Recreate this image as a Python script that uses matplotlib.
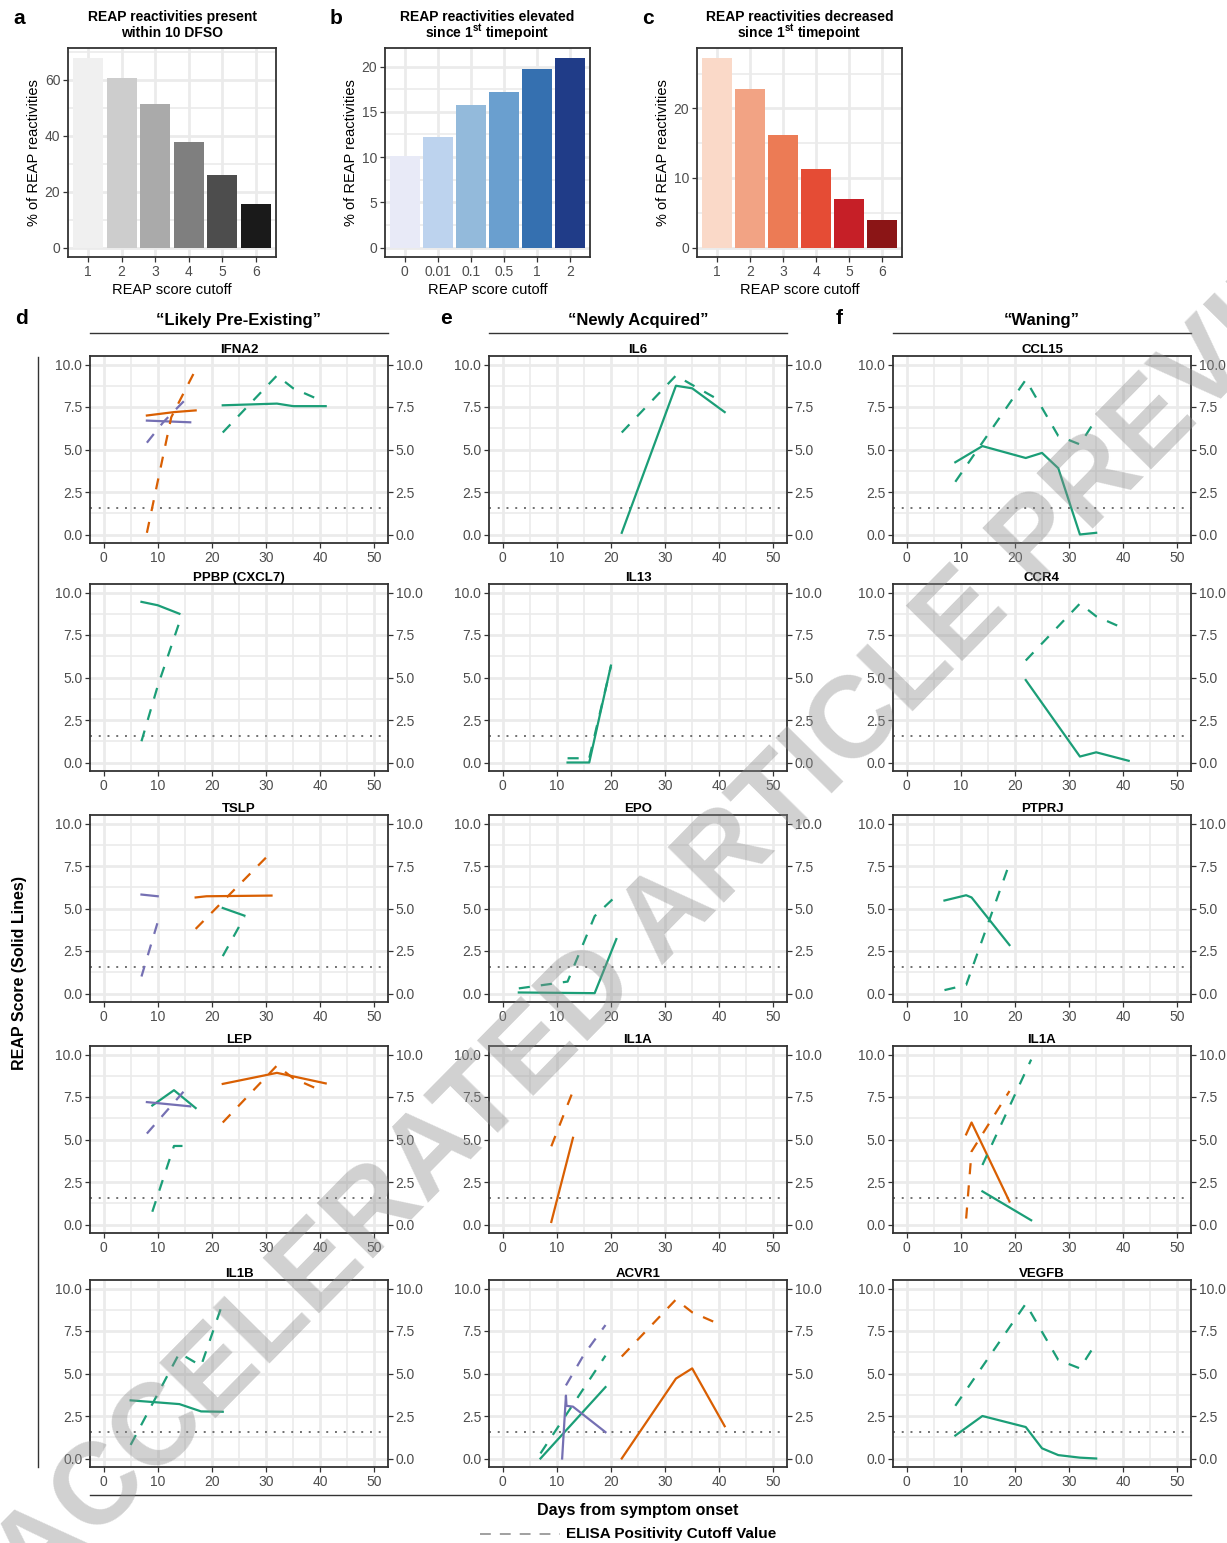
import matplotlib
matplotlib.use('Agg')
import matplotlib.pyplot as plt
from matplotlib.lines import Line2D

plt.rcParams['font.family'] = ['Liberation Sans', 'DejaVu Sans']
plt.rcParams['mathtext.fontset'] = 'custom'
plt.rcParams['mathtext.rm'] = 'Liberation Sans'
plt.rcParams['mathtext.bf'] = 'Liberation Sans:bold'

# ---- bar chart data (panels a-c) ----
cutoffs_a = ['1', '2', '3', '4', '5', '6']
present_pct = [67.9, 60.4, 51.2, 37.6, 26.0, 15.4]
cutoffs_b = ['0', '0.01', '0.1', '0.5', '1', '2']
elevated_pct = [10.1, 12.2, 15.7, 17.2, 19.7, 21.0]
cutoffs_c = ['1', '2', '3', '4', '5', '6']
decreased_pct = [27.3, 22.8, 16.1, 11.3, 6.9, 4.0]

grays = ['#F0F0F0', '#CDCDCD', '#AAAAAA', '#7F7F7F', '#4D4D4D', '#1A1A1A']
blues = ['#E8EAF7', '#BDD3EE', '#93BADB', '#6A9FCF', '#3570B0', '#203C88']
reds = ['#FAD9C8', '#F2A384', '#EC7B55', '#E54C35', '#C61F27', '#8B1516']

# ---- time course data (panels d-f) ----
# (patient, measure, days, values); measure 'reap' = solid, 'elisa' = dashed
IFNA2 = [
    ('B', 'reap', [8, 13, 17], [7.0, 7.2, 7.3]),
    ('C', 'reap', [8, 12, 16], [6.7, 6.65, 6.6]),
    ('B', 'elisa', [8, 12.5, 17], [0.1, 6.9, 9.7]),
    ('C', 'elisa', [8, 11, 15], [5.4, 6.6, 7.9]),
    ('A', 'reap', [22, 32, 35, 41], [7.6, 7.7, 7.55, 7.55]),
    ('A', 'elisa', [22, 32, 35, 40], [6.0, 9.35, 8.6, 7.9]),
]
PPBP = [
    ('A', 'reap', [7, 10, 14], [9.45, 9.25, 8.75]),
    ('A', 'elisa', [7, 10, 14], [1.25, 4.5, 8.25]),
]
TSLP = [
    ('C', 'reap', [7, 10], [5.82, 5.72]),
    ('C', 'elisa', [7, 10], [1.0, 4.2]),
    ('B', 'reap', [17, 19, 31], [5.65, 5.72, 5.76]),
    ('B', 'elisa', [17, 30], [3.8, 8.0]),
    ('A', 'reap', [22, 26], [5.03, 4.58]),
    ('A', 'elisa', [22, 26], [2.2, 4.5]),
]
LEP = [
    ('A', 'reap', [9, 13, 17], [7.0, 7.9, 6.85]),
    ('C', 'reap', [8, 16], [7.2, 6.95]),
    ('C', 'elisa', [8, 15], [5.35, 7.9]),
    ('A', 'elisa', [9, 13, 15], [0.75, 4.62, 4.62]),
    ('B', 'reap', [22, 32, 41], [8.27, 8.92, 8.3]),
    ('B', 'elisa', [22, 32, 35, 40], [6.0, 9.35, 8.6, 7.9]),
]
IL1B = [
    ('A', 'reap', [5, 10, 14, 18, 22], [3.42, 3.3, 3.2, 2.77, 2.75]),
    ('A', 'elisa', [5, 14, 18, 22], [0.8, 6.2, 5.45, 9.15]),
]
IL6 = [
    ('A', 'reap', [22, 32, 35, 41], [0.1, 8.75, 8.6, 7.2]),
    ('A', 'elisa', [22, 32, 35, 40], [6.0, 9.35, 8.8, 7.9]),
]
IL13 = [
    ('A', 'reap', [12, 16, 20], [0.0, 0.0, 5.7]),
    ('A', 'elisa', [12, 16, 20], [0.25, 0.25, 5.65]),
]
EPO = [
    ('A', 'reap', [3, 17, 21], [0.06, 0.02, 3.2]),
    ('A', 'elisa', [3, 12, 17, 21], [0.3, 0.7, 4.55, 5.75]),
]
IL1A_new = [
    ('B', 'reap', [9, 13], [0.15, 5.1]),
    ('B', 'elisa', [9, 13], [4.6, 7.85]),
]
ACVR1 = [
    ('A', 'reap', [7, 19], [0.0, 4.2]),
    ('A', 'elisa', [7, 19], [0.3, 6.05]),
    ('C', 'reap', [11, 11.7, 11.8, 13, 19], [0.0, 3.7, 3.1, 3.05, 1.55]),
    ('C', 'elisa', [11.7, 15, 19], [4.3, 6.1, 7.85]),
    ('B', 'reap', [22, 32, 35, 41], [0.0, 4.7, 5.3, 1.9]),
    ('B', 'elisa', [22, 32, 35, 40], [6.0, 9.35, 8.6, 7.9]),
]
CCL15 = [
    ('A', 'reap', [9, 14, 22, 25, 28, 32, 35], [4.25, 5.2, 4.5, 4.8, 3.9, 0.0, 0.1]),
    ('A', 'elisa', [9, 22, 28, 32, 35], [3.1, 9.1, 5.8, 5.3, 6.8]),
]
CCR4 = [
    ('A', 'reap', [22, 32, 35, 41], [4.85, 0.35, 0.6, 0.1]),
    ('A', 'elisa', [22, 32, 35, 40], [6.0, 9.35, 8.6, 7.9]),
]
PTPRJ = [
    ('A', 'reap', [7, 11, 12, 19], [5.47, 5.78, 5.65, 2.85]),
    ('A', 'elisa', [7, 11, 19], [0.2, 0.5, 7.65]),
]
IL1A_wan = [
    ('B', 'reap', [11, 12, 19], [5.3, 6.0, 1.35]),
    ('B', 'elisa', [11, 12, 19], [0.35, 4.3, 7.85]),
    ('A', 'reap', [14, 23], [1.95, 0.25]),
    ('A', 'elisa', [14, 23], [3.5, 9.7]),
]
VEGFB = [
    ('A', 'reap', [9, 14, 22, 25, 28, 32, 35], [1.35, 2.5, 1.85, 0.6, 0.2, 0.05, 0.0]),
    ('A', 'elisa', [9, 22, 28, 32, 35], [3.1, 9.1, 5.8, 5.3, 6.8]),
]

elisa_cutoff = 1.55

groups = ['\u201cLikely Pre-Existing\u201d', '\u201cNewly Acquired\u201d', '\u201cWaning\u201d']
group_letters = ['d', 'e', 'f']
columns = [
    [('IFNA2', IFNA2), ('PPBP (CXCL7)', PPBP), ('TSLP', TSLP), ('LEP', LEP), ('IL1B', IL1B)],
    [('IL6', IL6), ('IL13', IL13), ('EPO', EPO), ('IL1A', IL1A_new), ('ACVR1', ACVR1)],
    [('CCL15', CCL15), ('CCR4', CCR4), ('PTPRJ', PTPRJ), ('IL1A', IL1A_wan), ('VEGFB', VEGFB)],
]

patient_colors = {'A': '#1B9E77', 'B': '#D95F02', 'C': '#7570B3'}
measure_styles = {'reap': '-', 'elisa': (0, (5, 5))}

W, H = 1227, 1543
fig = plt.figure(figsize=(W / 100, H / 100), dpi=100)


def px_axes(left, top, width, height):
    return fig.add_axes([left / W, 1 - (top + height) / H, width / W, height / H])


def fig_line(x0, x1, y0, y1, **kw):
    fig.add_artist(Line2D([x0 / W, x1 / W], [1 - y0 / H, 1 - y1 / H],
                          transform=fig.transFigure, **kw))


def style_frame(ax):
    for s in ax.spines.values():
        s.set_color('#333333')
        s.set_linewidth(1.3)
    ax.set_axisbelow(True)
    ax.grid(which='major', color='#EBEBEB', lw=2.0)
    ax.grid(which='minor', color='#EBEBEB', lw=1.2)
    ax.tick_params(which='minor', length=0)
    ax.tick_params(which='major', direction='out', length=3.5, width=0.9,
                   color='#333333', labelcolor='#4D4D4D', labelsize=10, pad=2)


# ---- panels a-c ----
bar_panels = [
    ('a', 68, 208, cutoffs_a, present_pct, grays, [0, 20, 40, 60],
     'REAP reactivities present', 'within 10 DFSO'),
    ('b', 385, 205, cutoffs_b, elevated_pct, blues, [0, 5, 10, 15, 20],
     'REAP reactivities elevated', 'since 1$^{\\bf st}$ timepoint'),
    ('c', 697, 205, cutoffs_c, decreased_pct, reds, [0, 10, 20],
     'REAP reactivities decreased', 'since 1$^{\\bf st}$ timepoint'),
]
for letter, left, width, cats, vals, cols, yt, title1, title2 in bar_panels:
    ax = px_axes(left, 48, width, 209)
    xs = range(len(cats))
    ax.bar(xs, vals, width=0.9, color=cols, zorder=2)
    top = max(vals) * 1.05
    ax.set_ylim(-max(vals) * 0.05, top)
    ax.set_xlim(-0.6, len(cats) - 0.4)
    ax.set_xticks(list(xs))
    ax.set_xticklabels(cats)
    ax.set_yticks(yt)
    step = yt[1] - yt[0]
    ax.set_yticks([v + step / 2 for v in yt if v + step / 2 < top], minor=True)
    style_frame(ax)
    ax.set_xlabel('REAP score cutoff', fontsize=10.5, color='black', labelpad=3)
    ax.set_ylabel('% of REAP reactivities', fontsize=10.5, color='black', labelpad=3)
    cx = (left + width / 2) / W
    fig.text(cx, 1 - 17 / H, title1, fontsize=10, fontweight='bold', ha='center', va='center')
    fig.text(cx, 1 - 33 / H, title2, fontsize=10, fontweight='bold', ha='center', va='center')
    fig.text((left - 55) / W, 1 - 18 / H, letter, fontsize=15, fontweight='bold',
             va='center', ha='left')

# ---- panels d-f ----
col_left = [90, 489, 893]
letter_x = [15, 440, 836]
row_top = [356, 584, 815, 1046, 1280]
pw, ph = 298, 187

for ci, panels in enumerate(columns):
    x0 = col_left[ci]
    fig.text((x0 + pw / 2) / W, 1 - 320 / H, groups[ci], fontsize=12, fontweight='bold',
             ha='center', va='center')
    fig_line(x0, x0 + pw, 333, 333, color='#333333', lw=1.0)
    fig.text(letter_x[ci] / W, 1 - 318 / H, group_letters[ci], fontsize=15,
             fontweight='bold', ha='left', va='center')
    for ri, (name, series) in enumerate(panels):
        ax = px_axes(x0, row_top[ri], pw, ph)
        ax.axhline(elisa_cutoff, color='#707070', lw=1.4, ls=(0, (1, 3.5)), zorder=1.5)
        for patient, measure, days, vals in series:
            ax.plot(days, vals, color=patient_colors[patient], ls=measure_styles[measure],
                    lw=1.6, zorder=3)
        ax.set_xlim(-2.5, 52.5)
        ax.set_ylim(-0.5, 10.5)
        ax.set_xticks(range(0, 51, 10))
        ax.set_xticks(range(5, 51, 10), minor=True)
        ax.set_yticks([0, 2.5, 5, 7.5, 10])
        ax.set_yticks([1.25, 3.75, 6.25, 8.75], minor=True)
        ax.set_yticklabels(['0.0', '2.5', '5.0', '7.5', '10.0'])
        style_frame(ax)
        ax.tick_params(which='major', right=True, labelright=True)
        ax.set_title(name, fontsize=9.5, fontweight='bold', pad=2)

# outer frame lines and shared labels
fig_line(38, 38, 357, 1467, color='#333333', lw=1.0)
fig.text(20 / W, 1 - 973 / H, 'REAP Score (Solid Lines)', rotation=90, fontsize=11.5,
         fontweight='bold', ha='center', va='center')
fig_line(90, 1191, 1495, 1495, color='#333333', lw=1.0)
fig.text(638 / W, 1 - 1510 / H, 'Days from symptom onset', fontsize=11.5,
         fontweight='bold', ha='center', va='center')
fig_line(480, 560, 1534, 1534, color='#999999', lw=1.3, ls=(0, (6, 5)))
fig.text(566 / W, 1 - 1534 / H, 'ELISA Positivity Cutoff Value', fontsize=11,
         fontweight='bold', ha='left', va='center')

# watermark
fig.text(700 / W, 1 - 885 / H, 'ACCELERATED ARTICLE PREVIEW', rotation=45.4,
         fontsize=83, fontweight='bold', color='#8C8C8C', alpha=0.4,
         ha='center', va='center', rotation_mode='anchor', zorder=10)

fig.savefig('out.png', dpi=100)
